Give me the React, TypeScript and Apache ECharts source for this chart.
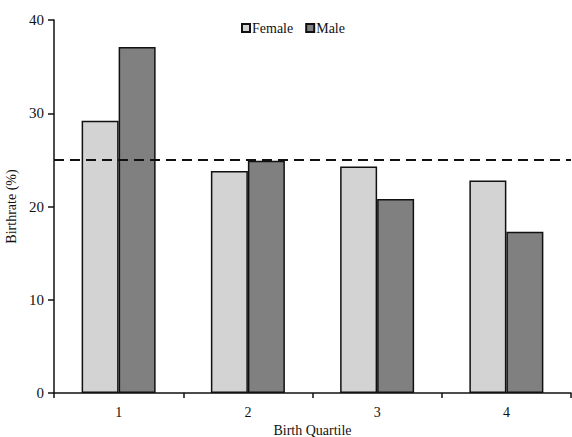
import React, { useEffect, useRef } from "react";
import * as echarts from "echarts";

const categories = ["1", "2", "3", "4"];
const female = [29.2, 23.8, 24.3, 22.8];
const male = [37.1, 24.9, 20.8, 17.3];
const referenceLine = 25;
const yTicks = { min: 0, max: 40, interval: 10 };

const FONT = "'Liberation Serif', 'Times New Roman', serif";

export default function App() {
  const ref = useRef<HTMLDivElement>(null);
  useEffect(() => {
    if (!ref.current) return;
    const chart = echarts.init(ref.current, undefined, { renderer: "svg" });
    chart.setOption({
      animation: false,
      backgroundColor: "#ffffff",
      textStyle: { fontFamily: FONT, color: "#222" },
      legend: {
        left: 236,
        top: 16,
        itemWidth: 8,
        itemHeight: 8,
        itemGap: 12,
        icon: "rect",
        textStyle: { fontFamily: FONT, fontSize: 14, color: "#111", padding: [0, 0, 0, -3] },
        data: ["Female", "Male"],
      },
      grid: { left: 54, right: 1, top: 20, bottom: 44, containLabel: false, outerBoundsMode: "none" },
      xAxis: {
        type: "category",
        data: categories,
        name: "Birth Quartile",
        nameLocation: "middle",
        nameGap: 30,
        nameTextStyle: { fontFamily: FONT, fontSize: 14, color: "#111" },
        axisLine: { lineStyle: { color: "#111", width: 1.5 } },
        axisTick: { show: true, inside: false, length: 5, alignWithLabel: false, lineStyle: { color: "#111", width: 1.5 } },
        axisLabel: { fontFamily: FONT, fontSize: 14, color: "#111", margin: 12 },
      },
      yAxis: {
        type: "value",
        min: yTicks.min,
        max: yTicks.max,
        interval: yTicks.interval,
        name: "Birthrate (%)",
        nameLocation: "middle",
        nameGap: 31,
        nameRotate: 90,
        nameTextStyle: { fontFamily: FONT, fontSize: 14, color: "#111" },
        axisLine: { show: true, lineStyle: { color: "#111", width: 1.5 } },
        axisTick: { show: true, length: 6, lineStyle: { color: "#111", width: 1.5 } },
        axisLabel: { fontFamily: FONT, fontSize: 15, color: "#111", margin: 10 },
        splitLine: { show: false },
      },
      series: [
        {
          name: "Female",
          type: "bar",
          data: female,
          barWidth: 37,
          barGap: "0%",
          itemStyle: { color: "#d3d3d3", borderColor: "#111", borderWidth: 1.5 },
          markLine: {
            symbol: "none",
            silent: true,
            label: { show: false },
            lineStyle: { color: "#111", type: [10, 6], width: 2 },
            data: [{ yAxis: referenceLine }],
          },
        },
        {
          name: "Male",
          type: "bar",
          data: male,
          barWidth: 37,
          barGap: "0%",
          itemStyle: { color: "#808080", borderColor: "#111", borderWidth: 1.5 },
        },
      ],
    });
    return () => chart.dispose();
  }, []);
  return (
    <div
      ref={ref}
      style={{ position: "fixed", left: 0, top: 0, width: 572, height: 437, background: "#fff" }}
    />
  );
}
